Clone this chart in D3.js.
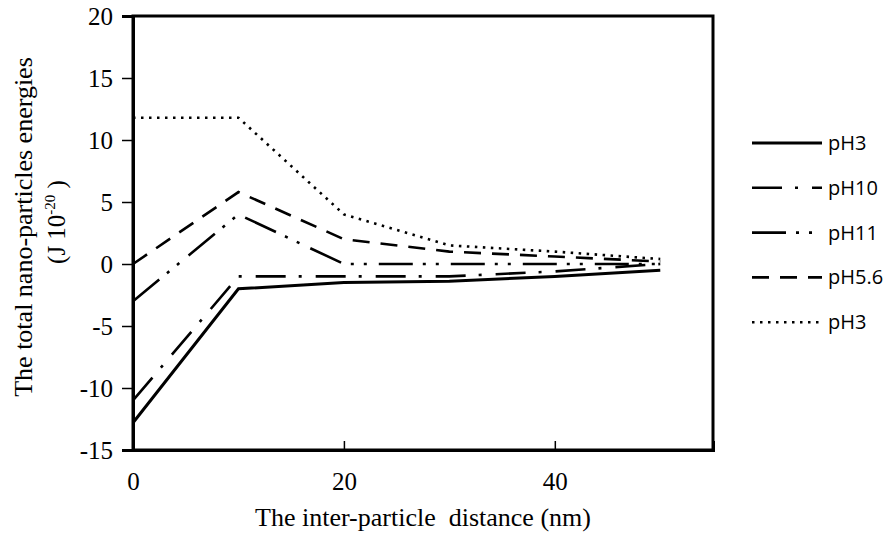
<!DOCTYPE html>
<html>
<head>
<meta charset="utf-8">
<script src="https://cdn.jsdelivr.net/npm/d3@7"></script>
<style>
body { margin: 0; background: #fff; }
svg text { fill: #000; }
</style>
</head>
<body>
<div id="chart-area"></div>
<script>
var margin = {top: 16, right: 174, bottom: 86, left: 133};
var w = 887 - margin.left - margin.right;
var h = 536 - margin.top - margin.bottom;

// data
var distances = [0, 10, 20, 30, 40, 50];
var seriesNames = ["pH3", "pH10", "pH11", "pH5.6", "pH3"];
var pH3solid = [-12.8, -2.0, -1.5, -1.4, -1.0, -0.5];
var pH10 = [-11.0, -1.0, -1.0, -1.0, -0.6, 0.0];
var pH11 = [-3.0, 4.0, 0.0, 0.0, 0.0, 0.0];
var pH56 = [0.0, 5.8, 2.0, 1.0, 0.6, 0.2];
var pH3dot = [11.8, 11.8, 4.0, 1.5, 1.0, 0.4];
var yTicks = [-15, -10, -5, 0, 5, 10, 15, 20];
var xTicks = [0, 20, 40];

var series = [
	{name: seriesNames[0], values: pH3solid, dash: null},
	{name: seriesNames[1], values: pH10, dash: "30,13,3,14"},
	{name: seriesNames[2], values: pH11, dash: "34,10,3,10,3,12"},
	{name: seriesNames[3], values: pH56, dash: "17,11"},
	{name: seriesNames[4], values: pH3dot, dash: "2.5,5.5"}
];

var svg = d3.select("#chart-area").append("svg")
	.attr("width", 887)
	.attr("height", 536);

var group = svg.append("g")
	.attr("transform", "translate(" + margin.left + "," + margin.top + ")");

var x = d3.scaleLinear().domain([0, 55]).range([0, w]);
var y = d3.scaleLinear().domain([-15, 20]).range([h, 0]);

// frame
group.append("rect")
	.attr("x", 0).attr("y", 0)
	.attr("width", w).attr("height", h)
	.attr("fill", "none")
	.attr("stroke", "#000")
	.attr("stroke-width", 3);

var left = d3.axisLeft(y).tickValues(yTicks).tickSize(11).tickPadding(9)
	.tickFormat(function(d) { return String(d); });
var y_group = group.append("g").call(left);
y_group.select(".domain").attr("stroke-width", 3);
y_group.selectAll(".tick line").attr("stroke-width", 1.5);
y_group.selectAll("text")
	.attr("font-family", "Liberation Serif")
	.attr("font-size", "25px")
	.attr("fill", "#000");

var bottom = d3.axisBottom(x).tickValues(xTicks).tickSize(-9).tickPadding(22)
	.tickFormat(function(d) { return String(d); });
var x_group = group.append("g")
	.attr("transform", "translate(0," + h + ")")
	.call(bottom);
x_group.select(".domain").attr("stroke-width", 3);
x_group.selectAll(".tick line").attr("stroke-width", 1.5);
x_group.selectAll("text")
	.attr("font-family", "Liberation Serif")
	.attr("font-size", "25px")
	.attr("fill", "#000");

// lines
var line = d3.line()
	.x(function(d, i) { return x(distances[i]); })
	.y(function(d) { return y(d); });

series.forEach(function(s) {
	group.append("path")
		.datum(s.values)
		.attr("fill", "none")
		.attr("stroke", "#000")
		.attr("stroke-width", s.dash ? 2.6 : 3)
		.attr("stroke-dasharray", s.dash)
		.attr("d", line);
});

// legend
var legend = svg.append("g").attr("transform", "translate(752,143)");
series.forEach(function(s, i) {
	var row = legend.append("g").attr("transform", "translate(0," + (i * 44.8) + ")");
	row.append("line")
		.attr("x1", 0).attr("x2", 70)
		.attr("stroke", "#000")
		.attr("stroke-width", s.dash ? 2.6 : 3)
		.attr("stroke-dasharray", s.dash);
	row.append("text")
		.attr("x", 76)
		.attr("y", 7)
		.attr("font-family", "Open Sans")
		.attr("font-size", "20px")
		.text(s.name);
});

// axis titles
svg.append("text")
	.attr("x", 423)
	.attr("y", 526)
	.attr("text-anchor", "middle")
	.attr("font-family", "Liberation Serif")
	.attr("font-size", "26px")
	.attr("xml:space", "preserve")
	.text("The inter-particle  distance (nm)");

svg.append("text")
	.attr("transform", "translate(32,227) rotate(-90)")
	.attr("text-anchor", "middle")
	.attr("font-family", "Liberation Serif")
	.attr("font-size", "26px")
	.text("The total nano-particles energies");

var unit = svg.append("text")
	.attr("transform", "translate(65,222) rotate(-90)")
	.attr("text-anchor", "middle")
	.attr("font-family", "Liberation Serif")
	.attr("font-size", "25px");
unit.append("tspan").text("(J 10");
unit.append("tspan").attr("font-size", "15px").attr("dy", -10).text("-20");
unit.append("tspan").attr("dy", 10).text(" )");
</script>
</body>
</html>
